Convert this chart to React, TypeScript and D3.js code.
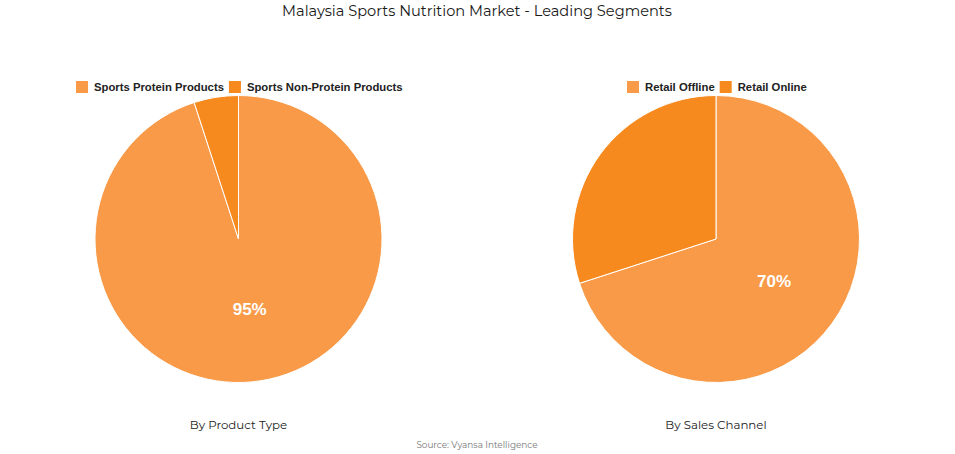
import React from "react";
import * as d3 from "d3";

const productLabels = ["Sports Protein Products", "Sports Non-Protein Products"];
const productValues = [95, 5];
const channelLabels = ["Retail Offline", "Retail Online"];
const channelValues = [70, 30];
const colors = ["#F89A48", "#F68A1F"];
const titles = ["By Product Type", "By Sales Channel"];

const W = 955;
const H = 454;

function Pie({ cx, cy, r, values, title }: any) {
  const pie = d3.pie<number>().sort(null).value((d) => d);
  const arcs = pie(values);
  const arc = d3.arc<d3.PieArcDatum<number>>().innerRadius(0).outerRadius(r);
  const labelArc = d3.arc<d3.PieArcDatum<number>>().innerRadius(r * 0.5).outerRadius(r * 0.5);
  return (
    <g>
      <g transform={`translate(${cx},${cy})`}>
        {arcs.map((a, i) => (
          <path key={i} d={arc(a) || ""} fill={colors[i]} stroke="#ffffff" strokeWidth={1} />
        ))}
        {arcs.map((a, i) => {
          if (a.data < 50) return null;
          const [lx, ly] = labelArc.centroid(a);
          return (
            <text key={i} x={lx} y={ly} textAnchor="middle" dominantBaseline="central"
              fill="#ffffff" fontFamily="Liberation Sans, Arial, sans-serif" fontWeight="bold" fontSize={17}>
              {a.data}%
            </text>
          );
        })}
      </g>
      <text x={cx} y={425} textAnchor="middle" dominantBaseline="central" fontFamily="Montserrat, 'Open Sans', sans-serif" fontSize={11.8} fill="#222">
        {title}
      </text>
    </g>
  );
}

function Legend({ labels, x0, y }: any) {
  const ref = React.useRef<SVGGElement>(null);
  React.useEffect(() => {
    if (!ref.current) return;
    const g = d3.select(ref.current);
    g.selectAll("*").remove();
    let x = x0;
    labels.forEach((l: string, i: number) => {
      g.append("rect").attr("x", x).attr("y", y - 6).attr("width", 12).attr("height", 12).attr("fill", colors[i]);
      const t = g.append("text").attr("x", x + 18).attr("y", y).attr("dominant-baseline", "central")
        .attr("font-family", "Liberation Sans, Arial, sans-serif").attr("font-weight", "bold")
        .attr("font-size", 11.3).attr("fill", "#222").text(l);
      const w = (t.node() as SVGTextElement).getComputedTextLength();
      x += 18 + w + 5;
    });
  }, []);
  return <g ref={ref} />;
}

export default function App() {
  return (
    <svg width={W} height={H} style={{ position: "absolute", left: 0, top: 0, background: "#fff" }}>
      <text x={477} y={11} textAnchor="middle" dominantBaseline="central" fontFamily="Montserrat, 'Open Sans', sans-serif" fontSize={14.6} fill="#1a1a1a">
        Malaysia Sports Nutrition Market - Leading Segments
      </text>
      <Pie cx={238.5} cy={239} r={143.5} values={productValues} title={titles[0]} />
      <Pie cx={716} cy={239} r={143.5} values={channelValues} title={titles[1]} />
      <Legend labels={productLabels} x0={76} y={87} />
      <Legend labels={channelLabels} x0={627} y={87} />
      <text x={477} y={444} textAnchor="middle" dominantBaseline="central" fontFamily="Montserrat, 'Open Sans', sans-serif" fontSize={8.9} fill="#777">
        Source: Vyansa Intelligence
      </text>
    </svg>
  );
}
